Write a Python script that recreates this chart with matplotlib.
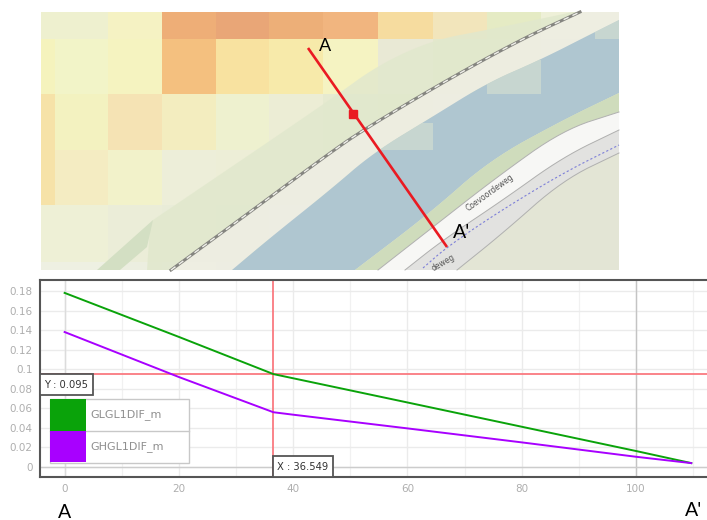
import matplotlib

matplotlib.use("Agg")
import matplotlib.pyplot as plt
from matplotlib.colors import to_rgb
from matplotlib.patches import Polygon, Rectangle
import numpy as np

# profile chart values
GREEN_X = [0, 20, 36.549, 60, 80, 100, 109.7]
GREEN_Y = [0.178, 0.133, 0.095, 0.066, 0.0412, 0.0164, 0.004]
PURPLE_X = [0, 20, 36.549, 40, 60, 80, 100, 109.7]
PURPLE_Y = [0.138, 0.092, 0.056, 0.0535, 0.0395, 0.0252, 0.0105, 0.004]
SERIES_NAMES = ["GLGL1DIF_m", "GHGL1DIF_m"]
CROSS_X = 36.549
CROSS_Y = 0.095
X_TICKS = [0, 20, 40, 60, 80, 100]
Y_TICKS = [0, 0.02, 0.04, 0.06, 0.08, 0.1, 0.12, 0.14, 0.16, 0.18]
Y_LABELS = ["0", "0.02", "0.04", "0.06", "0.08", "0.1", "0.12", "0.14", "0.16", "0.18"]

# raster cells of the map, in image pixels
CELL_X = [41, 55, 108, 162, 216, 269, 323, 378, 433, 487, 541, 595, 619]
CELL_Y = [12, 39, 94, 150, 205, 262, 270]
CELL_COLORS = [
    ["#eef0cf", "#eef0cf", "#f5f2c3", "#eeae77", "#e9a677", "#edaf78", "#f1b57f", "#f6dc9f", "#f2e5bb", "#e5ebc4", "#eef0d8", "#efefdf"],
    ["#f5f3bd", "#f2f4c8", "#f5f3c0", "#f4c07f", "#f8e2a0", "#f7eaaa", "#f5f3c2", "#e9e9d5", "#e4e8cc", "#e4e8cc", "#e8e8e0", "#e8e8e0"],
    ["#f6e2a8", "#f3f2c0", "#f5e3b4", "#f3edbf", "#eef1cf", "#ecedd5", "#e6ead0", "#e4e8cc", "#e8e8e0", "#e4e8cc", "#e4e8cc", "#e4e8cc"],
    ["#f6e2a8", "#f4ecc2", "#f2f2ca", "#edeed9", "#edeed7", "#e8ecd4", "#e6e8d6", "#e4e8d0", "#e4e8d0", "#e4e8d0", "#e4e8d0", "#e4e8d0"],
    ["#eef0d6", "#eef0d6", "#ebedd8", "#e9ecd8", "#e6ebd4", "#e6e6e2", "#e3e6d6", "#e3e6d6", "#e3e6d6", "#e3e6d6", "#e3e6d6", "#e3e6d6"],
    ["#eef0e2", "#eef0e2", "#eceee0", "#eeeee4", "#e8e8e4", "#e6e6e2", "#e3e6d6", "#e3e6d6", "#e3e6d6", "#e3e6d6", "#e3e6d6", "#e3e6d6"],
]


def smooth(points, rounds=3):
    # corner cutting, keeps both end points
    points = np.array(points, dtype=float)
    for _ in range(rounds):
        first = 0.75 * points[:-1] + 0.25 * points[1:]
        second = 0.25 * points[:-1] + 0.75 * points[1:]
        middle = np.empty((first.shape[0] * 2, 2))
        middle[0::2] = first
        middle[1::2] = second
        points = np.vstack([points[0], middle, points[-1]])
    return [tuple(p) for p in points]


def add_band(axis, upper, lower, color, alpha=1.0, zorder=2):
    points = list(upper) + list(lower)[::-1]
    patch = Polygon(points, closed=True, facecolor=color, edgecolor="none", alpha=alpha, zorder=zorder)
    axis.add_patch(patch)
    return patch


def draw_map(axis):
    rgb = np.array([[to_rgb(c) for c in row] for row in CELL_COLORS])
    axis.pcolormesh(CELL_X, CELL_Y, rgb, shading="flat", zorder=1)

    rail = smooth([(171, 270), (250, 212), (327, 155), (363, 130), (447, 80), (520, 40), (580, 12)])
    river_top = smooth([(232, 270), (270, 238), (330, 190), (373, 153), (432, 117), (487, 83), (540, 60), (595, 32), (619, 20)])
    river_low = smooth([(355, 270), (430, 213), (490, 160), (563, 120), (619, 93)])
    bank_low = smooth([(378, 270), (433, 227), (497, 177), (563, 130), (619, 112)])
    road_low = smooth([(405, 270), (443, 240), (503, 200), (563, 157), (619, 130)])
    path_low = smooth([(457, 270), (503, 233), (563, 180), (619, 153)])
    path_dots = smooth([(423, 268), (447, 247), (497, 213), (563, 173), (619, 145)])

    # green strip above the rail
    green_top = [(147, 270), (150, 225)] + smooth([(153, 220), (330, 100), (378, 65), (433, 40), (487, 30), (573, 12)]) + [(580, 12)]
    add_band(axis, green_top, rail, "#e1e8cd", 0.85)
    add_band(axis, [(97, 270), (153, 220)], [(120, 270), (147, 247)], "#d3dfc3", 1.0, 3)
    # light strip between rail and river
    add_band(axis, rail, river_top + [(619, 12)], "#eeeee2", 0.95)
    river = add_band(axis, river_top, river_low, "#afc6d0", 1.0, 3)
    for x0, y0, w, h in [(487, 60, 54, 34), (380, 123, 53, 27), (595, 12, 24, 27)]:
        pale = Rectangle((x0, y0), w, h, facecolor="#dfe6d0", alpha=0.5, edgecolor="none", zorder=3.1)
        axis.add_patch(pale)
        pale.set_clip_path(river)
    add_band(axis, river_low, bank_low, "#cfdcbc", 1.0, 3)
    add_band(axis, bank_low, road_low, "#f7f7f5", 1.0, 3)
    add_band(axis, road_low, path_low, "#e2e2e0", 1.0, 3)
    axis.add_patch(Polygon(path_low + [(619, 270)], facecolor="#e3e5d5", edgecolor="none", zorder=3))

    for line in [bank_low, road_low, path_low]:
        xs, ys = zip(*line)
        axis.plot(xs, ys, color="#b0b0b0", lw=0.7, zorder=3.5)

    xs, ys = zip(*rail)
    axis.plot(xs, ys, color="#858580", lw=2.2, zorder=3.5)
    axis.plot(xs, ys, color="#f0f0ea", lw=1.0, ls=(0, (4, 3)), zorder=3.6)
    xs, ys = zip(*path_dots)
    axis.plot(xs, ys, color="#7d7fd8", lw=0.8, ls=(0, (2, 2)), zorder=3.6)

    axis.text(490, 193, "Coevoordeweg", fontsize=5.5, color="#555555", rotation=36, ha="center", va="center", zorder=4)
    axis.text(443, 263, "deweg", fontsize=5.5, color="#555555", rotation=30, ha="center", va="center", zorder=4)

    # section line
    axis.plot([308, 447], [48, 247], color="#ea1a22", lw=1.9, zorder=5, solid_capstyle="butt")
    axis.plot([353], [114], marker="s", ms=5.5, color="#ea1a22", zorder=5)
    axis.text(325, 46, "A", fontsize=13, family="Lato", ha="center", va="center", zorder=6)
    axis.text(462, 233, "A'", fontsize=14, family="Lato", ha="center", va="center", zorder=6)


def draw_profile(axis):
    axis.set_xlim(-4.4, 112.8)
    axis.set_ylim(-0.0102, 0.1917)
    axis.set_xticks(X_TICKS)
    axis.set_yticks(Y_TICKS, Y_LABELS)
    axis.set_xticks([10, 30, 50, 70, 90, 110], minor=True)
    axis.grid(True, which="major", color="#ebebeb", lw=1.0)
    axis.grid(True, which="minor", color="#f1f1f1", lw=0.9)
    axis.axvline(0, color="#dcdcdc", lw=1.0, zorder=1)
    axis.axvline(100, color="#c4c4c4", lw=1.0, zorder=1)
    axis.axhline(0, color="#cccccc", lw=1.0, zorder=1)
    axis.set_axisbelow(True)
    axis.tick_params(which="both", length=0, labelsize=7.5, labelcolor="#aeaeae", pad=5)
    for spine in axis.spines.values():
        spine.set_color("#555555")
        spine.set_linewidth(1.5)

    axis.axhline(CROSS_Y, color="#fa7a80", lw=1.3, zorder=2)
    axis.axvline(CROSS_X, color="#fa7a80", lw=1.3, zorder=2)
    axis.plot(GREEN_X, GREEN_Y, color="#0aa30a", lw=1.4, zorder=3)
    axis.plot(PURPLE_X, PURPLE_Y, color="#a800ff", lw=1.4, zorder=3)


def draw_overlay(axis):
    # crosshair read-outs
    for x0, y0, w, h, label in [
        (39.5, 374, 53, 21, f"Y : {CROSS_Y}"),
        (272.5, 456, 60, 21, f"X : {CROSS_X}"),
    ]:
        axis.add_patch(Rectangle((x0, y0), w, h, facecolor="white", edgecolor="#555555", lw=1.3, zorder=5))
        axis.text(x0 + w / 2, y0 + h / 2 + 0.5, label, fontsize=7.2, color="#333333", ha="center", va="center", zorder=6)

    # legend table
    axis.add_patch(Rectangle((50, 399), 139, 63.5, facecolor="white", edgecolor="#c8c8c8", lw=1.0, zorder=5))
    axis.plot([50, 189], [430.7, 430.7], color="#c8c8c8", lw=1.0, zorder=6)
    for y0, color, name in zip([399, 430.7], ["#0aa30a", "#a800ff"], SERIES_NAMES):
        axis.add_patch(Rectangle((50, y0), 36, 31.7, facecolor=color, edgecolor="none", zorder=6))
        axis.text(90, y0 + 16, name, fontsize=8, color="#8f8f8f", va="center", zorder=6)

    axis.text(65, 512, "A", fontsize=14, family="Lato", ha="center", va="center")
    axis.text(694, 510, "A'", fontsize=14, family="Lato", ha="center", va="center")


figure = plt.figure(figsize=(7.07, 5.2), dpi=100, facecolor="white")
width, height = 707, 520

map_axis = figure.add_axes([0, 0, 1, 1])
map_axis.set_xlim(0, width)
map_axis.set_ylim(height, 0)
map_axis.axis("off")
draw_map(map_axis)

chart_axis = figure.add_axes([39.5 / width, 1 - 477 / height, (width - 39.5 + 2) / width, (477 - 279.5) / height])
draw_profile(chart_axis)

overlay = figure.add_axes([0, 0, 1, 1])
overlay.set_xlim(0, width)
overlay.set_ylim(height, 0)
overlay.axis("off")
draw_overlay(overlay)

figure.savefig("out.png", dpi=100, facecolor="white")
plt.close(figure)
